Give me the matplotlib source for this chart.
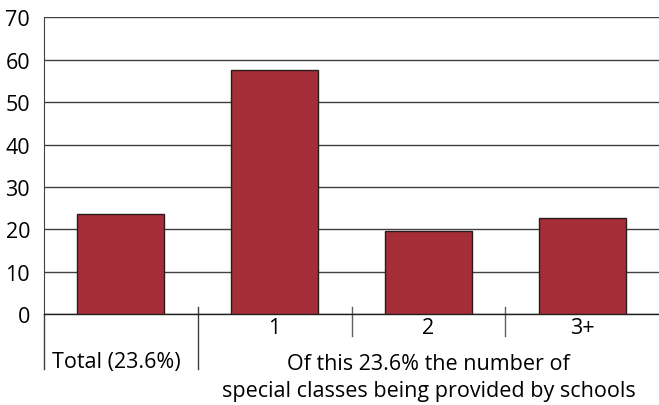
import matplotlib.pyplot as plt
from matplotlib.transforms import blended_transform_factory

# --- data ---
categories = ["Total (23.6%)", "1", "2", "3+"]
values = [23.6, 57.6, 19.7, 22.8]
group_label = "Of this 23.6% the number of\nspecial classes being provided by schools"
y_ticks = [0, 10, 20, 30, 40, 50, 60, 70]

plt.rcParams['font.family'] = ['Open Sans', 'DejaVu Sans']
FS = 15.5

fig = plt.figure(figsize=(6.59, 4.06), dpi=100)
ax = fig.add_axes([0.0668, 0.2234, 0.9332, 0.7316])

x = list(range(len(categories)))
ax.bar(x, values, width=0.566, color='#a52d37', edgecolor='#2a1c1c', linewidth=1.0, zorder=3)

ax.set_xlim(-0.5, 3.5)
ax.set_ylim(0, 70)
ax.set_yticks(y_ticks)
ax.set_yticklabels([str(t) for t in y_ticks], fontsize=FS)
ax.tick_params(axis='y', length=0, pad=10)
ax.yaxis.grid(True, color='#404040', linewidth=1.0, zorder=0)
ax.set_axisbelow(True)

for side in ['top', 'right']:
    ax.spines[side].set_visible(False)
ax.spines['left'].set_color('#404040')
ax.spines['bottom'].set_color('#202020')
ax.spines['bottom'].set_linewidth(1.0)

ax.set_xticks([])

trans = blended_transform_factory(ax.transData, ax.transAxes)
# left spine extension and group separators
ax.plot([-0.5, -0.5], [0, -0.185], transform=trans, color='#404040', lw=1.0, clip_on=False)
ax.plot([0.5, 0.5], [0.024, -0.185], transform=trans, color='#404040', lw=1.0, clip_on=False)
for sep in [1.5, 2.5]:
    ax.plot([sep, sep], [0.024, -0.073], transform=trans, color='#606060', lw=1.0, clip_on=False)

# category labels
for xi, lab in zip(x[1:], categories[1:]):
    ax.text(xi, -0.045, lab, transform=trans, ha='center', va='center', fontsize=FS)
ax.text(x[0] - 0.03, -0.158, categories[0], transform=trans, ha='center', va='center', fontsize=FS)
ax.text(2.0, -0.212, group_label, transform=trans, ha='center', va='center',
        fontsize=FS, linespacing=1.38)

fig.savefig('out.png', dpi=100)
